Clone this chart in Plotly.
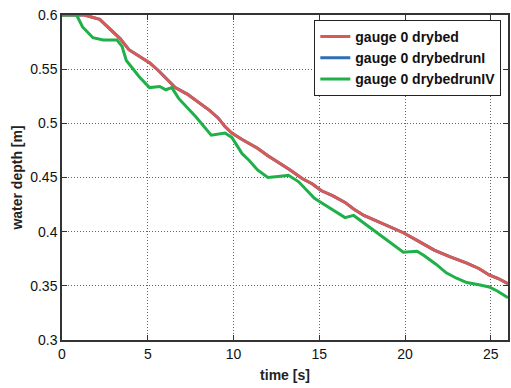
import plotly.graph_objects as go

t_red = [0, 0.8, 1.3, 2.2, 2.8, 3.4, 3.9, 4.5, 5.1, 5.6, 6.1, 6.6, 7.3, 8.0, 8.6, 9.1, 9.5, 9.9,
         10.5, 11.4, 12.0, 12.6, 13.3, 14.0, 14.6, 15.1, 15.8, 16.5, 17.0, 17.6, 18.3, 19.0, 19.9,
         20.8, 21.7, 22.6, 23.6, 24.3, 24.9, 25.4, 26.0]
y_red = [0.6, 0.6, 0.6, 0.596, 0.587, 0.578, 0.568, 0.562, 0.556, 0.549, 0.541, 0.533, 0.527, 0.519,
         0.512, 0.505, 0.497, 0.491, 0.485, 0.477, 0.470, 0.464, 0.457, 0.449, 0.444, 0.438, 0.433,
         0.427, 0.421, 0.415, 0.410, 0.405, 0.399, 0.391, 0.383, 0.377, 0.371, 0.366, 0.360, 0.357, 0.352]

t_blue = t_red
y_blue = y_red

t_green = [0, 0.85, 1.2, 1.8, 2.4, 3.2, 3.5, 3.75, 4.5, 5.1, 5.7, 6.05, 6.4, 6.8, 7.8, 8.7, 9.5, 9.9,
           10.5, 10.9, 11.4, 12.0, 12.6, 13.2, 13.8, 14.7, 15.1, 15.8, 16.5, 17.0, 17.6, 18.3, 19.0,
           19.9, 20.7, 21.1, 21.8, 22.4, 23.0, 23.6, 24.3, 24.9, 25.4, 26.0]
y_green = [0.6, 0.6, 0.589, 0.579, 0.577, 0.577, 0.571, 0.558, 0.543, 0.533, 0.534, 0.531, 0.533, 0.523,
           0.506, 0.489, 0.491, 0.487, 0.472, 0.466, 0.457, 0.450, 0.451, 0.452, 0.446, 0.431, 0.427,
           0.420, 0.413, 0.415, 0.408, 0.400, 0.392, 0.381, 0.382, 0.378, 0.370, 0.362, 0.357, 0.353,
           0.351, 0.349, 0.345, 0.339]

names = ["gauge 0 drybed", "gauge 0 drybedrunI", "gauge 0 drybedrunIV"]
colors = ["#d65a55", "#2f6eb5", "#1fb04a"]

fig = go.Figure()
# draw blue first so red sits on top, keep legend order red, blue, green
fig.add_trace(go.Scatter(x=t_blue, y=y_blue, mode="lines", name=names[1],
                         line=dict(color=colors[1], width=3), legendrank=2))
fig.add_trace(go.Scatter(x=t_red, y=y_red, mode="lines", name=names[0],
                         line=dict(color=colors[0], width=3), legendrank=1))
fig.add_trace(go.Scatter(x=t_green, y=y_green, mode="lines", name=names[2],
                         line=dict(color=colors[2], width=3), legendrank=3))

axis_common = dict(showline=True, linecolor="#333", linewidth=1.5, mirror="ticks",
                   ticks="inside", ticklen=5, tickcolor="#333",
                   showgrid=True, gridcolor="#666", gridwidth=1, griddash="1px,2px",
                   zeroline=False, tickfont=dict(family="Liberation Sans", size=14, color="#111"))

title_font = dict(family="Liberation Sans", size=14, color="#222", weight="bold")

fig.update_xaxes(range=[0, 26], tickvals=[0, 5, 10, 15, 20, 25],
                 title=dict(text="time [s]", font=title_font, standoff=10), **axis_common)
fig.update_yaxes(range=[0.3, 0.6], tickvals=[0.3, 0.35, 0.4, 0.45, 0.5, 0.55, 0.6],
                 ticktext=["0.3", "0.35", "0.4", "0.45", "0.5", "0.55", "0.6"],
                 title=dict(text="water depth [m]", font=title_font, standoff=4), **axis_common)

fig.update_layout(
    width=511, height=388,
    margin=dict(l=62, r=1, t=15, b=48),
    paper_bgcolor="white", plot_bgcolor="white",
    legend=dict(x=0.985, y=0.985, xanchor="right", yanchor="top",
                bgcolor="white", bordercolor="#222", borderwidth=1,
                font=dict(family="Liberation Sans", size=14, color="#111", weight="bold"),
                tracegroupgap=0, itemwidth=30),
    showlegend=True,
)

fig.write_html("out.html")
